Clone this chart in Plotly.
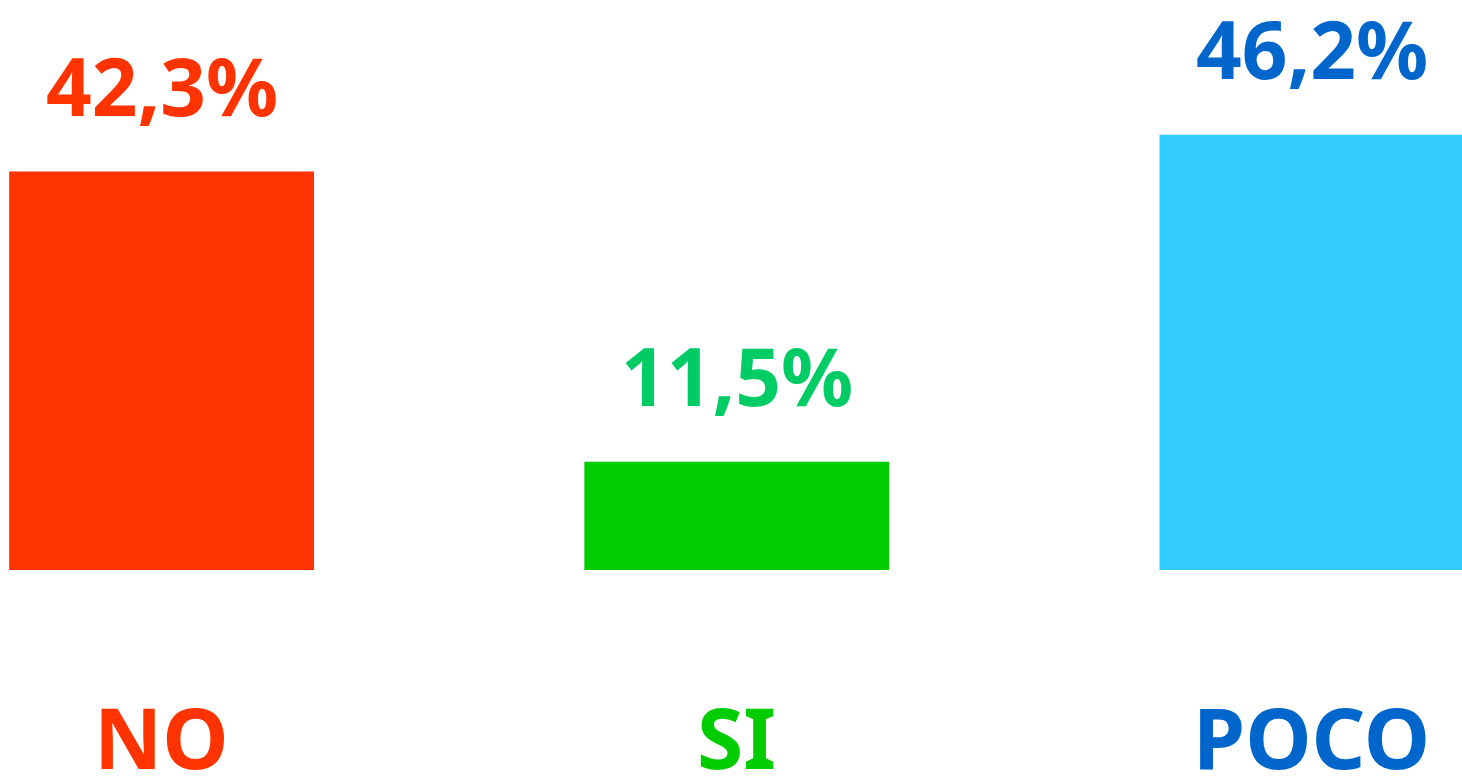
import plotly.graph_objects as go

categories = ["NO", "SI", "POCO"]
values = [42.3, 11.5, 46.2]
value_labels = ["42,3%", "11,5%", "46,2%"]
bar_colors = ["#FF3300", "#00CC00", "#33CCFF"]
value_label_colors = ["#FF3300", "#00CC66", "#0066CC"]
category_label_colors = ["#FF3300", "#00CC00", "#0066CC"]

FONT = "Comic Sans MS, Noto Sans, sans-serif"

fig = go.Figure(
    go.Bar(
        x=categories,
        y=values,
        marker=dict(color=bar_colors, line=dict(width=0)),
        width=0.53,
        hoverinfo="skip",
    )
)

annotations = []
for cat, val, lab, col in zip(categories, values, value_labels, value_label_colors):
    annotations.append(dict(
        x=cat, y=val, xref="x", yref="y", text=f"<b>{lab}</b>",
        showarrow=False, yanchor="middle", yshift=87,
        font=dict(family=FONT, size=80, color=col),
    ))
for cat, col in zip(categories, category_label_colors):
    annotations.append(dict(
        x=cat, y=0, xref="x", yref="y", text=f"<b>{cat}</b>",
        showarrow=False, yanchor="middle", yshift=-166,
        font=dict(family=FONT, size=84, color=col),
    ))

fig.update_layout(
    width=1462, height=778,
    margin=dict(l=0, r=0, t=0, b=208),
    paper_bgcolor="white", plot_bgcolor="white",
    showlegend=False,
    xaxis=dict(range=[-0.281, 2.261], visible=False, type="category"),
    yaxis=dict(range=[0, 60.5], visible=False),
    annotations=annotations,
)

fig.write_html("out.html")
